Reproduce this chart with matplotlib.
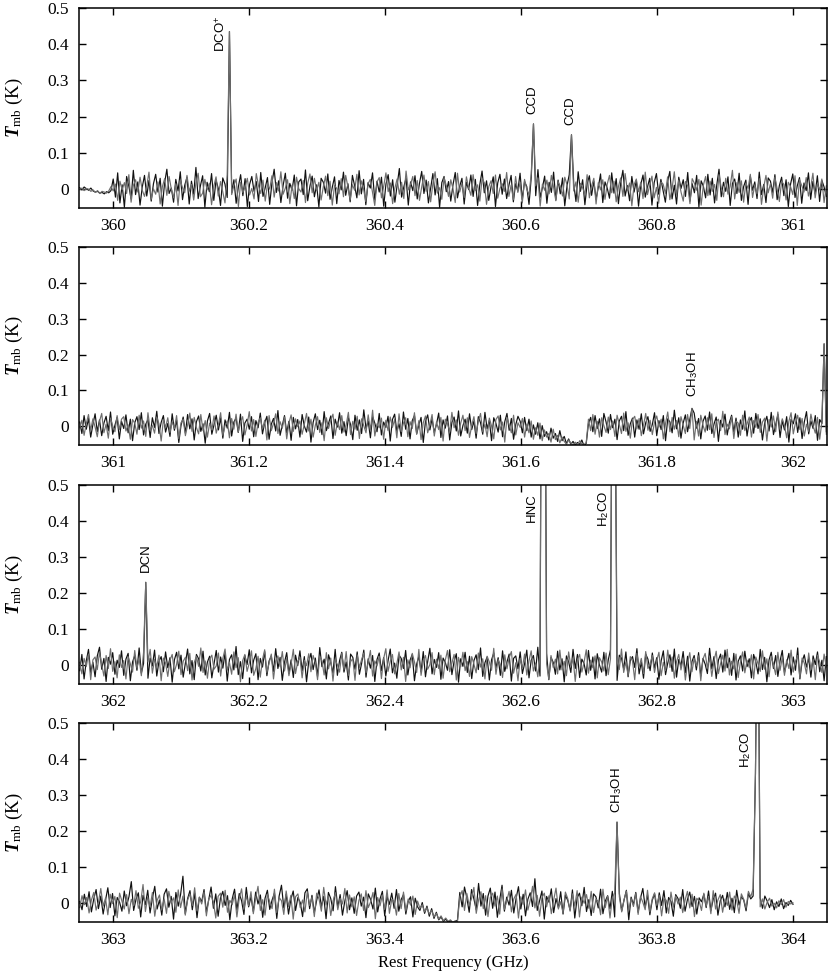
import matplotlib
matplotlib.use("Agg")
import matplotlib.pyplot as plt
import numpy as np

# ---- two overlaid spectra per band, baseline values in mK ----
band_start = [359.951, 360.951, 361.951, 362.951]
band_end = [361.049, 362.049, 363.049, 364.000]

noise1 = [4, -2, 6, 1, -3, 3, -5, -8, -6, -11, -9, -13, -7, -10, -4,
          28, -22, 45, -38, 12, -50, 35, 8, -27, 52, -15, 20, -44, 6, 38, -19, 24, -33, 15, 41,
          -8, 30, -47, 18, 55, -12, 3, -36, 27, -5, 48, -29, 11, 33, -41, 22, -14, 60, -26, 9,
          37, -50, 19, -7, 43, -31, 25, 2, -45, 31, 14, -23, 50, -10, 26, -39, 7, 40, -18, 29,
          -48, 13, 35, -6, 21, -34, 46, -20, 4, 32, -42, 17, 55, -9, 23, -37, 10, 44, -25, 16,
          -3, 39, -46, 20, 28, -15, 53, -32, 8, 36, -21, 12, -49, 30, 19, -11, 42, -28, 5, 34,
          -40, 24, -2, 47, -17, 15, -35, 38, 9, -24, 51, -13, 27, -43, 18, 3, 45, -30, 22, -8,
          33, -47, 14, 40, -19, 26, -36, 11, 57, -22, 6, 31, -44, 20, -4, 37, -27, 16, 49, -12,
          25, -38, 2, 43, -16, 29, -50, 18, 35, -7, 21, -33, 12, 46, -24, 8, 30, -41, 19, -1,
          39, -20, 27, -45, 13, 50, -10, 23, -31, 6, 34, -48, 17, 41, -14, 28, -26, 10, 38, -35,
          15, -5, 44, -29, 21, 7, -42, 32, 12, -18, 54, -23, 4, 36, -39, 19, -9, 47, -30, 25,
          -13, 31, -46, 9, 40, -21, 16, -34, 48, -6, 26, -43, 14, 37, -17, 22, -28, 5, 42, -37,
          20, 3, -25, 45, -11, 29, -40, 17, 52, -19, 10, -32, 35, -8, 24, -47, 13, 39, -22, 6,
          30, -44, 18, 43, -14, 27, -5, -36, 21, 49, -27, 11, -41, 33, 2, 26, -20, 46, -33, 15,
          -10, 38, -49, 23, 8, -24, 41, -16, 30, -38, 12, 55, -21, 19, -6, 34, -45, 16, 28, -12,
          44, -31, 7, 25, -42, 36, -3, 20, -26, 47, -15, 13, -37, 31, 22, -9, 40, -29, 10, 33,
          -18, 26, -48, 14, 42, -23, 9, 32, -39, 17, -4, 45, -28, 21, -13, 37, -34, 24, 6, -20]
noise1b = [-1, 3, -4, 2, 0, -6, -2, -9, -4, -12, -6, -8, -11, -5, 7,
           -5, 14, -31, 22, -2, 18, -12, 40, -36, 10, 26, -8, 33, -3, -20, 9, 47, -28, 1, -14,
           20, -41, 7, 29, -17, 35, 0, -24, 15, -45, 24, 4, -10, 38, -6, 13, -30, 17, 44, -21,
           -11, 27, -2, 16, -43, 8, 34, -19, 21, -7, -38, 39, 5, -15, 11, 28, -48, 19, -9, 6,
           30, -16, 2, -27, 43, 9, -12, 25, -33, 14, 0, 37, -22, 18, -5, 48, -14, 3, 26, -40,
           11, -26, 33, 1, -8, 24, -37, 16, 42, -10, 30, -4, 19, -30, 7, 36, -18, 22, -44, 10,
           2, -13, 29, -21, 38, 6, -29, 12, -3, 41, -16, 23, 0, -34, 15, 27, -9, -45, 20, 32,
           -24, 8, 45, -7, 17, -40, 3, 28, -14, 19, -26, 50, -2, 13, 35, -18, 24, -31, 6, 39,
           -6, 21, -35, 15, 48, -11, 4, -28, 32, 10, -20, 26, 1, -37, 44, -8, 16, -23, 34, 3,
           -17, 40, -4, 12, -33, 29, 18, -42, 7, 23, -12, 39, -25, 2, 15, -6, 46, -20, 11, -29,
           35, -9, 18, -38, 27, 0, -16, 42, -22, 9, 31, -47, 14, -3, 25, -13, 38, 5, -32, 21,
           8, -19, 33, 12, -27, 45, -5, 20, -36, 16, 4, -15, 40, -24, 9, 30, -41, 18, -2, 26,
           -28, 14, 38, -10, 22, -35, 7, 31, -20, 43, -4, 17, -46, 12, 28, -7, 19, -26, 47, -15,
           10, 36, -24, 5, -39, 20, 14, -12, 34, -29, 2, 48, -17, 25, -8, -33, 21, 9, -40, 29,
           16, -3, 27, -44, 11, 35, -18, 22, -6, 13, -31, 40, 4, -21, 30, -14, 8, 52, -27, 18,
           -9, 23, -36, 17, 2, 41, -23, 12, -13, 29, -42, 6, 38, -10, 15, -25, 33, 1, -34, 22,
           13, -30, 19, 7, -15, 37, -45, 26, 10, -8, 32, -19, 5, 44, -24, 14, -2, 28, -37, 9]

noise2 = [12, -20, 30, -8, 22, -30, 5, 35, -15, 18, -26, 9, 28, -12, 40, -22, 3, 25, -35, 14,
          -6, 32, -18, 20, -40, 10, 27, -9, 38, -24, 6, 19, -31, 24, -3, 42, -20, 11, 30, -16,
          8, -28, 35, -11, 17, -45, 2, 26, -19, 33, -7, 21, -38, 13, 29, -14, 7, -47, 15, 36,
          -22, 4, 31, -10, 24, -33, 18, -5, 39, -27, 12, 23, -17, 34, -42, 9, 20, -8, 27, -29,
          16, -4, 37, -21, 10, 28, -36, 6, 22, -13, 44, -25, 3, 30, -18, 14, -39, 25, -7, 19,
          -30, 33, 1, -16, 26, -44, 11, 35, -9, 17, -23, 41, -12, 8, 29, -34, 20, -2, 38, -19,
          13, -26, 24, 5, -37, 31, -11, 18, -20, 46, -6, 15, -32, 27, 9, -15, 36, -24, 12, -3,
          28, -41, 19, 34, -14, 7, -28, 40, -8, 22, -35, 16, 30, -21, 4, 25, -45, 14, 32, -10,
          21, -17, 6, 37, -31, 18, -5, 29, -38, 11, 26, -13, 43, -27, 2, 20, -19, 35, -9, 15,
          -33, 27, 10, -22, 39, -7, 17, -40, 24, 8, -16, 31, -29, 13, 36, -11, 22, -36, 5, 28,
          14, -18, 25, -12, 20, -30, 4, -22, 10, -35, 2, -28, -15, -38, -5, -33, -20, -42, -12, -40,
          -28, -48, -35, -50, -42, -52, -45, -50, -38, -55, -47, 8, 25, -15, 30, -6, 21, -28, 36, 12,
          -19, 33, -4, 20, -37, 15, 28, -12, 41, -25, 7, 23, -30, 18, -8, 35, -21, 10, 27, -14,
          5, 38, -26, 16, -9, 30, -40, 21, 12, -18, 45, -7, 24, -33, 9, 32, -15, 19, -28, 37,
          -5, 22, -35, 14, 29, -11, 40, -20, 6, 26, -42, 17, -2, 34, -24, 11, 31, -16, 23, -30,
          18, -8, 43, -27, 13, 25, -19, 36, -6, 21, -38, 9, 28, -13, 39, -23, 4, 33, -31, 16,
          -10, 27, -44, 20, 7, 35, -17, 24, -34, 12, 41, -21, 15, -6, 30, -39, 19, 8, 26, -15]
noise2b = [-4, 17, -25, 8, 33, -11, 21, -2, -29, 14, 36, -18, 6, -33, 23, 1, -15, 30, -9, 20,
           27, -13, 4, -36, 19, 9, -22, 31, -5, 15, -28, 38, -10, 2, -19, 26, 7, -41, 18, -3,
           24, -17, 13, -6, 30, -34, 10, 20, -26, 4, 37, -14, 25, -3, -21, 33, -12, 16, -30, 9,
           -10, 29, -19, 5, 38, -25, 2, 15, -32, 22, -8, 34, -16, 11, 27, -24, 3, 41, -13, 19,
           -28, 11, 24, -7, 17, -38, 30, -12, 8, 35, -20, 13, -5, 26, -35, 9, 32, -14, 21, -1,
           15, -22, 6, 36, -13, 20, -30, 3, 27, -17, 10, -40, 24, -6, 18, 34, -25, 12, -9, 30,
           -16, 4, 39, -23, 14, -8, 28, -34, 21, 2, -18, 32, -11, 45, -27, 7, -4, 23, -36, 17,
           -12, 26, -3, 19, -32, 35, -15, 9, 24, -29, 13, -6, 38, -22, 16, -37, 10, 29, -18, 4,
           33, -27, 12, -9, 25, -41, 20, 7, -14, 39, -4, 18, -25, 9, 31, -12, 24, -31, 2, 27,
           -20, 14, 36, -15, 6, -29, 23, 1, -35, 19, 29, -10, 12, -44, 25, 3, -18, 31, -24, 10,
           -3, 22, -30, 6, -18, 15, -36, -4, -25, 9, -40, -10, -30, -20, -44, -8, -37, -25, -46, -30,
           -42, -50, -38, -47, -52, -44, -55, -40, -49, -51, -45, 20, -12, 33, -22, 14, -30, 24, 2, -17,
           26, -9, 15, -28, 31, 6, -20, 37, -14, 10, -33, 19, 28, -7, 22, -26, 3, 36, -11, 17,
           -23, 12, 29, -2, 20, -35, 8, 40, -15, 25, -8, 16, -29, 27, 4, -20, 33, -6, 11, -38,
           14, -27, 31, 3, -16, 24, -9, 35, -31, 13, 20, -12, 42, -23, 6, -7, 27, -34, 15, 9,
           -25, 31, -12, 7, 26, -30, 16, -3, 33, -17, 12, 23, -41, 19, -2, 29, -15, 40, -8, 21,
           3, -32, 14, 38, -21, 10, 31, -9, 22, -27, 6, -14, 34, 2, -19, 25, -36, 13, 39, -22]

noise3 = [-15, 30, -38, 12, 44, -20, 8, -32, 26, 50, -11, 19, -45, 22, 3, 35, -25, 14, -6, 40,
          -28, 17, 33, -43, 9, 27, -14, 48, -22, 5, 31, -36, 20, -2, 42, -30, 11, 24, -18, 37,
          -7, 21, -47, 15, 36, -10, 28, -33, 6, 45, -24, 13, -40, 30, 18, -16, 39, -27, 9, 25,
          -35, 4, 41, -19, 23, -8, 34, -44, 16, 29, -13, 52, -26, 10, -37, 27, 2, 43, -21, 14,
          32, -40, 19, -5, 38, -29, 12, 26, -17, 46, -9, 22, -42, 8, 35, -23, 15, -34, 28, -1,
          40, -16, 24, -46, 11, 33, -12, 20, -31, 49, -4, 17, -38, 29, 7, -22, 44, -28, 13, 36,
          -19, 9, -41, 31, 22, -11, 37, -25, 5, 42, -33, 18, -8, 27, -45, 16, 34, -15, 21, -30,
          12, 45, -21, 6, -36, 28, 19, -9, 41, -27, 14, 30, -43, 3, 25, -18, 38, -32, 10, 47,
          -24, 16, -6, 35, -39, 20, 8, -14, 43, -26, 11, 32, -47, 18, -3, 36, -20, 25, -37, 13,
          29, -12, 48, -31, 7, 23, -41, 15, 34, -7, 21, -28, 40, -17, 9, 31, -44, 19, 26, -10,
          37, -23, 4, 42, -35, 14, 27, -16, 50, -30, 11, -5, 33, -40, 22, 8, -25, 39, -13, 18,
          -46, 26, 10, -20, 44, -9, 30, -34, 17, 5, -27, 41, -14, 23, -38, 32, 1, -19, 36, -29,
          15, 43, -22, 8, -42, 28, 20, -11, 37, -32, 13, 24, -6, 46, -24, 9, -36, 31, 17, -15,
          34, -8, 21, -39, 12, 40, -26, 6, 29, -17, 45, -33, 16, -2, 38, -21, 25, -44, 10, 27,
          -13, 35, -30, 19, 3, -23, 47, -10, 24, -37, 14, 31, -19, 42, -7, 20, -28, 33, -41, 11,
          26, -16, 39, -4, 18, -35, 30, 9, -24, 44, -12, 22, -46, 15, 36, -9, 27, -31, 12, 41,
          -20, 7, 33, -27, 23, -14, 48, -38, 10, 29, -5, 19, -33, 26, 2, 37, -18, 14, -43, 24]
noise3b = [8, -24, 19, -3, 31, -40, 15, 23, -12, 36, 2, -30, 27, -9, 46, -17, 10, -35, 29, -6,
           13, -38, 24, 4, -19, 41, -8, 18, -29, 35, -13, 9, 44, -22, 16, -4, 28, -43, 20, 6,
           -31, 14, 30, -18, 3, 39, -26, 11, 22, -15, 33, -41, 7, 25, -3, 48, -20, 12, -36, 17,
           28, -11, -2, 34, -30, 19, 45, -14, 8, -25, 37, -7, 21, -46, 13, 30, -17, 6, 40, -28,
           -9, 25, -33, 16, 43, -20, 5, 31, -38, 12, 26, -4, 38, -16, 19, -29, 3, 44, -23, 10,
           22, -35, 14, -1, 32, -18, 27, 7, -40, 24, 13, -27, 35, -10, 20, -44, 15, 2, -19, 33,
           -12, 38, -28, 10, 19, -42, 29, -6, 16, 34, -21, 8, 41, -30, 12, -2, 25, -37, 18, 46,
           -17, 11, 30, -24, 5, 37, -13, 22, -45, 15, -7, 33, 9, -20, 44, -28, 13, 27, -11, 2,
           35, -26, 17, -9, 28, -36, 14, 41, -18, 6, 30, -41, 22, -4, 36, -15, 10, -31, 24, 3,
           -21, 34, -5, 18, -38, 25, 9, -14, 47, -25, 16, 2, -34, 29, -10, 21, 38, -22, 7, -43,
           19, -8, 31, -27, 12, 40, -16, 6, -32, 23, -12, 35, 4, -39, 27, -6, 17, -24, 42, -13,
           11, -29, 37, -3, 20, -45, 16, 30, -19, 8, 43, -22, 14, -7, 26, -35, 21, 9, -16, 34,
           -26, 18, 5, -37, 30, -12, 45, -20, 9, -28, 24, 12, -40, 33, -5, 19, -23, 38, -9, 4,
           27, -20, 13, 36, -29, 8, -15, 42, -6, 23, -36, 10, 30, -13, 18, -41, 6, 35, -18, 20,
           -2, 26, -43, 17, 33, -8, 21, -31, 12, 39, -23, 5, 28, -16, 44, -27, 11, -10, 31, -34,
           9, 37, -21, 14, -6, 29, -38, 23, 4, -17, 40, -11, 18, -32, 25, 1, -26, 36, -14, 22,
           -28, 15, -9, 42, -19, 11, 27, -35, 20, 6, -24, 34, -12, 17, -40, 28, 9, -20, 31, -5]

noise4 = [5, -18, 25, -9, 32, -24, 12, 38, -15, 20, -30, 8, 43, -12, 27, -35, 16, 3, -22, 34,
          -7, 18, 60, -20, 11, 29, -38, 22, -4, 36, -27, 14, 47, -16, 9, -33, 25, 40, -11, 19,
          -44, 30, -8, 24, 75, -29, 13, 35, -18, 28, -40, 17, 4, 38, -25, 10, 45,
          -14, 26, -36, 15, 33, -6, 21, -46, 12, 39, -19, 27, 7, -31, 44, -10, 18, -23, 31, -2,
          23, -39, 14, 36, -17, 9, 28, -42, 20, 50, -13, 25, -30, 11, 34, -20, 16, 2, -37, 29,
          40, -15, 22, -26, 8, 37, -9, 19, -43, 30, 13, -21, 46, -11, 24, -33, 6, 35, -18, 15,
          -28, 20, 31, -8, 17, -40, 26, 10, -16, 42, -24, 12, 33, -35, 19, -3, 28, -14, 38, -22,
          10, 24, -30, 5, 18, -38, 14, -10, -20, 2, -28, -8, -36, -15, -42, -25, -46, -38, -50, -44,
          -52, -48, -55, -50, -47, 30, -10, 45, 15, -25, 38, 12, -18, 55, -8, 27, -33, 20, 42,
          -14, 31, -39, 9, 50, -22, 17, -5, 36, -27, 14, 46, -16, 25, -35, 11, 29, -9, 68, -20,
          7, 34, -44, 19, 3, 40, -26, 13, -12, 32, -30, 22, 8, -19, 37, -41, 15, 28, -7, 44,
          -23, 10, -34, 26, 18, -13, 39, -29, 6, 21, -15, 33, -38, 12, 27, -21, 9, 36, -46, 17,
          -4, 30, -25, 14, 41, -11, 23, -32, 8, 26, -18, 29, -6, 35, -27, 16, 5, -36, 24, 13,
          -14, 38, -22, 10, 31, -9, 19, -30, 15, 4, 25, -12, 34, -20, 11, 28, -33, 7, 22, -10,
          30, -17, 14, -26, 36, -5, 18, 9, -21, 27, 12, 20, 24,
          -8, 15, -14, 20, 6, -12, 10, -18, 4, -9, 12, -15, 2, -6, 8, -3]
noise4b = [-12, 21, -4, 16, -27, 9, 30, -19, 3, 41, -8, 14, -32, 25, -1, 19, -40, 28, 6, -16,
           24, -29, 11, -7, 35, -14, 4, 52, -23, 17, -10, 30, -36, 8, 23, -19, 12, -28, 33, 2,
           15, -25, 37, -12, 20, -33, 9, 26, -6, 43, -21, 16, -2, 31, -35, 11, 22,
           3, -41, 19, 28, -11, 36, -25, 8, -4, 24, -38, 13, 40, -17, 21, -7, 32, -29, 14, 47,
           -20, 10, -33, 25, 4, -15, 39, -26, 16, 7, -31, 34, -9, 22, -44, 18, 26, -12, 9, -24,
           32, -6, 17, -37, 28, 12, -22, 44, -5, 20, -34, 7, 29, -18, 14, -2, 41, -27, 23, -10,
           18, -34, 8, 26, -20, 35, -12, 4, 30, -43, 16, -7, 23, -17, 37, -28, 11, 5, -33, 27,
           -15, 31, -22, 12, -5, 20, -31, 6, -14, -4, -24, -12, -30, -20, -38, -28, -44, -35, -48, -41,
           -50, -46, -53, -49, -51, 18, 35, -20, 27, -6, 13, 44, -28, 9, 32, -15, 21, -37, 16,
           28, -8, 20, -30, 40, -17, 6, 33, -24, 12, 25, -41, 18, -3, 37, -19, 8, 47, -13, 22,
           -36, 15, 28, -10, 21, -29, 9, 42, -16, 4, -27, 31, 13, -22, 26, -8, 35, -38, 17, 0,
           24, -14, 33, -26, 11, 6, -32, 39, -12, 20, -41, 15, 29, -7, 18, -24, 10, 34, -19, 13,
           -9, 27, -31, 19, 3, -18, 36, -24, 12, 29, -6, 22, -35, 15, 8, -28, 31, -11, 20, -2,
           17, -26, 8, 33, -13, 25, -37, 14, 6, -20, 28, -8, 19, -29, 35, -16, 9, 24, -25, 12,
           -6, 31, -19, 20, 8, -28, 26, 11, -14, 33, 18, 40, 15,
           6, -10, 12, -16, 3, 14, -8, 0, -13, 7, -4, 10, -11, 5, -2, 1]

spec_black = [noise1, noise2, noise3, noise4]
spec_grey = [noise1b, noise2b, noise3b, noise4b]

# emission lines: rest frequency (GHz) and peak Tmb (K)
line_freq = [[360.1705, 360.619, 360.674],
             [361.853, 362.047],
             [362.047, 362.630, 362.633, 362.736, 362.739],
             [363.740, 363.9435, 363.947]]
line_peak = [[0.435, 0.18, 0.15],
             [0.05, 0.23],
             [0.23, 1.5, 1.3, 1.2, 0.9],
             [0.225, 0.36, 1.0]]

# molecule labels: text, frequency of label, Tmb at label bottom
label_text = [[r'DCO$^{\mathsf{+}}$', 'CCD', 'CCD'],
              [r'CH$_{\mathsf{3}}$OH'],
              ['DCN', 'HNC', r'H$_{\mathsf{2}}$CO'],
              [r'CH$_{\mathsf{3}}$OH', r'H$_{\mathsf{2}}$CO']]
label_x = [[360.159, 360.617, 360.672],
           [361.853],
           [362.048, 362.616, 362.721],
           [363.740, 363.931]]
label_y = [[0.378, 0.208, 0.178],
           [0.083],
           [0.258, 0.397, 0.383],
           [0.25, 0.375]]

xlims = [(359.95, 361.05), (360.95, 362.05), (361.95, 363.05), (362.95, 364.05)]
xticks = [[360, 360.2, 360.4, 360.6, 360.8, 361],
          [361, 361.2, 361.4, 361.6, 361.8, 362],
          [362, 362.2, 362.4, 362.6, 362.8, 363],
          [363, 363.2, 363.4, 363.6, 363.8, 364]]
yticks = [0, 0.1, 0.2, 0.3, 0.4, 0.5]

plt.rcParams['mathtext.fontset'] = 'custom'
plt.rcParams['mathtext.rm'] = 'Liberation Serif'
plt.rcParams['mathtext.it'] = 'Liberation Serif:italic'
plt.rcParams['mathtext.bf'] = 'Liberation Serif:bold:italic'
plt.rcParams['mathtext.sf'] = 'Liberation Sans'

fig = plt.figure(figsize=(8.3, 9.77), dpi=100)


def with_lines(vals_mK, k):
    vals = np.array(vals_mK, dtype=float) / 1000.0
    freq = np.linspace(band_start[k], band_end[k], len(vals))
    for f, p in zip(line_freq[k], line_peak[k]):
        vals[np.argmin(np.abs(freq - f))] = p
    return freq, vals


# panel boxes in pixels (top, bottom)
boxes = [(8, 208), (247, 445), (485, 684), (723, 922)]
H = 977.0
for k in range(4):
    top, bot = boxes[k]
    ax = fig.add_axes([79 / 830, 1 - bot / H, 748 / 830, (bot - top) / H])

    fb, vb = with_lines(spec_black[k], k)
    fg, vg = with_lines(spec_grey[k], k)
    ax.plot(fb, vb, color='#111111', lw=0.85)
    ax.plot(fg, vg, color='#6e6e6e', lw=0.85)

    for t, lx, ly in zip(label_text[k], label_x[k], label_y[k]):
        ax.text(lx, ly, t, rotation=90, ha='center', va='bottom',
                fontsize=9.5, family='Liberation Sans')

    ax.set_xlim(*xlims[k])
    ax.set_ylim(-0.052, 0.5)
    ax.set_xticks(xticks[k])
    ax.set_yticks(yticks)
    ax.xaxis.set_major_formatter(matplotlib.ticker.FormatStrFormatter('%g'))
    ax.yaxis.set_major_formatter(matplotlib.ticker.FormatStrFormatter('%g'))
    ax.tick_params(direction='in', top=True, right=True, length=5, width=1,
                   labelsize=12.5, pad=7)
    for lab in ax.get_xticklabels() + ax.get_yticklabels():
        lab.set_family('Liberation Serif')
    for s in ax.spines.values():
        s.set_linewidth(1.1)

    ax.set_ylabel(r'$\mathbf{T}_{\mathrm{mb}}$ (K)', family='Liberation Serif', fontsize=13.5)
    ax.yaxis.set_label_coords(-0.072, 0.5)

fig.text(453 / 830, 1 - 963 / H, 'Rest Frequency (GHz)', ha='center', va='center',
         family='Liberation Serif', fontsize=12)

fig.savefig('out.png', dpi=100)
